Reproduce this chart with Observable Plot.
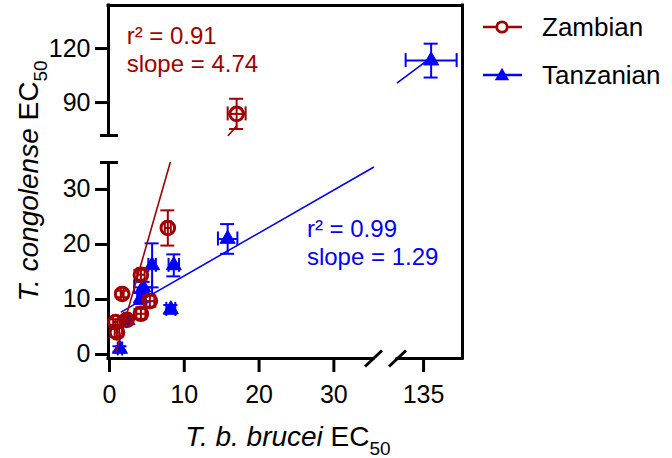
<!DOCTYPE html>
<html><head><meta charset="utf-8">
<script src="https://cdn.jsdelivr.net/npm/d3@7"></script>
<script src="https://cdn.jsdelivr.net/npm/@observablehq/plot@0.6"></script>
<style>
body{margin:0;background:#fff;}
#wrap{position:relative;width:672px;height:458px;font-family:"Liberation Sans",Arial,sans-serif;}
#chart{position:absolute;left:0;top:0;}
#legend{position:absolute;left:480px;top:3px;z-index:2;}
.item{display:flex;align-items:center;height:48px;font-size:26px;color:#000;}
.item span{margin-left:20px;}
</style></head><body>
<div id="wrap"><div id="chart"></div><div id="legend"></div></div>
<script>
// ---- data ----
const seriesNames = ["Zambian", "Tanzanian"];
const seriesColors = ["#a00000", "#0000ff"];

const zamX    = [1.0, 0.8, 2.3, 1.7, 4.2, 5.4, 4.2, 7.8, 17.0];
const zamY    = [4.0, 5.9, 6.3, 11.0, 7.4, 9.7, 14.5, 23.0, 83.7];
const zamXErr = [0.3, 0.3, 0.4, 0.2, 0.6, 0.6, 0.5, 0.4, 1.2];
const zamYErr = [0.8, 0.5, 0.5, 0.6, 0.9, 1.0, 0.9, 3.2, 8.4];

const tanX    = [1.4, 2.4, 4.2, 4.5, 5.7, 8.6, 8.2, 15.8, 139.0];
const tanY    = [1.0, 6.2, 10.2, 12.2, 16.2, 16.2, 8.2, 21.0, 113.3];
const tanXErr = [0.3, 0.4, 0.5, 1.2, 0.5, 0.7, 0.6, 1.3, 13.5];
const tanYErr = [0.5, 0.5, 1.0, 1.0, 4.0, 2.0, 0.8, 2.7, 9.4];

// fitted lines (y = slope*x + intercept over [xStart, xEnd])
const fitSlope     = [4.74, 0.78];
const fitIntercept = [-3.6, 6.5];
const fitXStart    = [0.85, 1.6];
const fitXEnd      = [17.0, 139.0];

const annoText = ["r² = 0.91\nslope = 4.74", "r² = 0.99\nslope = 1.29"];
const annoX = [2.3, 26.4];
const annoY = [107.2, 16.2];

const xTicks = [0, 10, 20, 30, 135];
const yTicks = [0, 10, 20, 30, 90, 120];

// broken-axis segments (data ranges shown)
const xSegments = [[-0.13, 35.3], [121.2, 155.6]];
const ySegments = [[-0.73, 34.9], [71.7, 143.9]];

// ---- layout ----
const W = 672, H = 458;
const xRange = [108, 373, 397, 462];
const yRange = [358, 162, 135, 5];
const xDomain = xSegments.flat();
const yDomain = ySegments.flat();
const xs = d3.scaleLinear(xDomain, xRange);
const ys = d3.scaleLinear(yDomain, yRange);

const mk = (X, Y, EX, EY, s) => X.map((x, i) => ({x, y: Y[i], ex: EX[i], ey: EY[i], s}));
const zam = mk(zamX, zamY, zamXErr, zamYErr, seriesNames[0]);
const tan = mk(tanX, tanY, tanXErr, tanYErr, seriesNames[1]);

function fitPieces(i) {
  const m = fitSlope[i], c = fitIntercept[i], out = [];
  let k = 0;
  for (const [xa, xb] of xSegments) for (const [ya, yb] of ySegments) {
    let lo = Math.max(fitXStart[i], xa), hi = Math.min(fitXEnd[i], xb);
    let a = (ya - c) / m, b = (yb - c) / m;
    if (a > b) [a, b] = [b, a];
    lo = Math.max(lo, a); hi = Math.min(hi, b);
    if (hi > lo) { out.push({x: lo, y: m*lo + c, k}, {x: hi, y: m*hi + c, k}); k++; }
  }
  return out;
}
const zamFit = fitPieces(0), tanFit = fitPieces(1);

function errMarks(data, color) {
  return [
    Plot.ruleX(data, {x: "x", y1: d => d.y - d.ey, y2: d => d.y + d.ey, stroke: color, strokeWidth: 2}),
    Plot.ruleY(data, {y: d => d.y + d.ey, x1: "x", x2: "x", insetLeft: -7, insetRight: -7, stroke: color, strokeWidth: 2}),
    Plot.ruleY(data, {y: d => d.y - d.ey, x1: "x", x2: "x", insetLeft: -7, insetRight: -7, stroke: color, strokeWidth: 2}),
    Plot.ruleY(data, {y: "y", x1: d => d.x - d.ex, x2: d => d.x + d.ex, stroke: color, strokeWidth: 2}),
    Plot.ruleX(data, {x: d => d.x - d.ex, y1: "y", y2: "y", insetTop: -7, insetBottom: -7, stroke: color, strokeWidth: 2}),
    Plot.ruleX(data, {x: d => d.x + d.ex, y1: "y", y2: "y", insetTop: -7, insetBottom: -7, stroke: color, strokeWidth: 2})
  ];
}

// break slashes on the x axis, centred on the segment ends
const xLo = xDomain[0], yLo = yDomain[0];
const breakCenters = [xSegments[0][1], xSegments[1][0]];
const slashes = breakCenters.map(c => ({
  x1: xs.invert(xs(c) - 8.5), x2: xs.invert(xs(c) + 8.5),
  y1: ys.invert(ys(yLo) + 8), y2: ys.invert(ys(yLo) - 8)
}));

const axisStroke = {stroke: "black", strokeWidth: 3};

const plot = Plot.plot({
  width: W, height: H,
  marginLeft: 108, marginRight: W - 462, marginTop: 5, marginBottom: H - 358,
  x: {type: "linear", domain: xDomain, range: xRange},
  y: {type: "linear", domain: yDomain, range: yRange},
  style: {fontFamily: '"Liberation Sans", Arial, sans-serif', background: "white", color: "black", overflow: "visible"},
  marks: [
    // frame / broken axes
    Plot.ruleX([xLo], {y1: ySegments[0][0], y2: ySegments[0][1], ...axisStroke}),
    Plot.ruleX([xLo], {y1: ySegments[1][0], y2: ySegments[1][1], ...axisStroke, strokeLinecap: "square"}),
    Plot.ruleY([yLo], {x1: xSegments[0][0], x2: xSegments[0][1], ...axisStroke, strokeLinecap: "square"}),
    Plot.ruleY([yLo], {x1: xSegments[1][0], x2: xSegments[1][1], ...axisStroke, strokeLinecap: "square"}),
    Plot.ruleY([ySegments[1][1]], {x1: xLo, x2: xSegments[1][1], ...axisStroke, strokeLinecap: "square"}),
    Plot.ruleX([xSegments[1][1]], {y1: yLo, y2: ySegments[1][1], ...axisStroke, strokeLinecap: "square"}),
    Plot.ruleY([ySegments[0][1], ySegments[1][0]], {x1: xLo, x2: xLo, insetLeft: -8, insetRight: -10, ...axisStroke}),
    Plot.link(slashes, {x1: "x1", y1: "y1", x2: "x2", y2: "y2", ...axisStroke}),
    Plot.axisX(xTicks, {anchor: "bottom", tickSize: 14, tickPadding: 13, strokeWidth: 3, fontSize: 25, label: null}),
    Plot.axisY(yTicks, {anchor: "left", tickSize: 13, tickPadding: 5, strokeWidth: 3, fontSize: 25, label: null}),
    // Tanzanian
    ...errMarks(tan, seriesColors[1]),
    Plot.line(tanFit, {x: "x", y: "y", z: "k", stroke: seriesColors[1], strokeWidth: 1.6}),
    Plot.dot(tan, {x: "x", y: "y", symbol: "triangle", r: 5.6, fill: seriesColors[1], stroke: seriesColors[1], strokeWidth: 1}),
    // Zambian
    ...errMarks(zam, seriesColors[0]),
    Plot.line(zamFit, {x: "x", y: "y", z: "k", stroke: seriesColors[0], strokeWidth: 1.6}),
    Plot.dot(zam, {x: "x", y: "y", symbol: "circle", r: 6.8, fill: "none", stroke: seriesColors[0], strokeWidth: 3}),
    // annotations
    Plot.text(annoText, {x: (d, i) => annoX[i], y: (d, i) => annoY[i], text: d => d, fill: (d, i) => seriesColors[i],
      textAnchor: "start", lineAnchor: "bottom", lineHeight: 1.17, fontSize: 24})
  ]
});
document.getElementById("chart").appendChild(plot);

// axis titles (italic species names, subscript)
const svg = d3.select(plot);
function title(sel, italic, rest, sub) {
  sel.attr("font-size", 28).attr("fill", "black").attr("text-anchor", "middle");
  sel.append("tspan").attr("font-style", "italic").text(italic);
  sel.append("tspan").text(" " + rest);
  sel.append("tspan").attr("font-size", 19).attr("dy", 9).text(sub);
}
title(svg.append("text").attr("x", 288).attr("y", 446), "T. b. brucei", "EC", "50");
title(svg.append("text").attr("transform", "translate(38,181) rotate(-90)"), "T. congolense", "EC", "50");

// legend
const legend = d3.select("#legend");
seriesNames.forEach((name, i) => {
  const row = legend.append("div").attr("class", "item");
  const s = row.append("svg").attr("width", 42).attr("height", 20);
  s.append("line").attr("x1", 3).attr("x2", 42).attr("y1", 10).attr("y2", 10)
    .attr("stroke", seriesColors[i]).attr("stroke-width", 2.5);
  if (i === 0) s.append("circle").attr("cx", 22).attr("cy", 10).attr("r", 5.2)
    .attr("fill", "white").attr("stroke", seriesColors[i]).attr("stroke-width", 2.8);
  else s.append("path").attr("transform", "translate(22,11)").attr("d", d3.symbol(d3.symbolTriangle, 90)())
    .attr("fill", seriesColors[i]);
  row.append("span").text(name);
});
</script>
</body></html>
